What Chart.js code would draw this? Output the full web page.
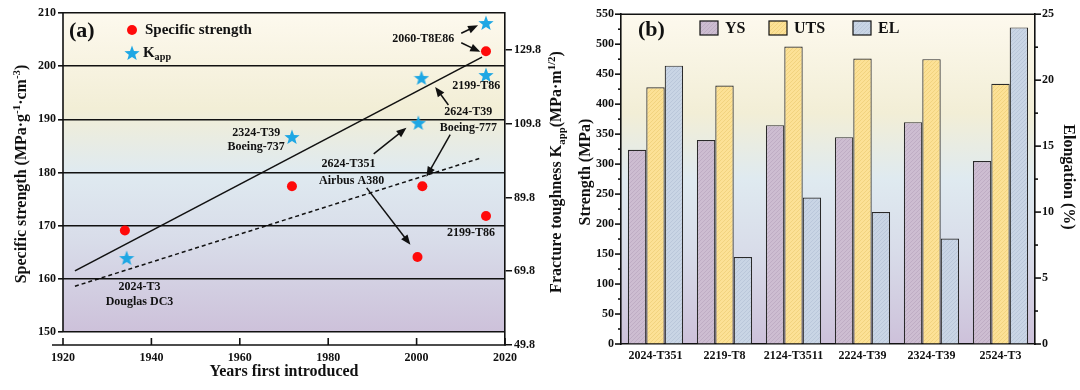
<!DOCTYPE html>
<html>
<head>
<meta charset="utf-8">
<script src="https://cdn.jsdelivr.net/npm/chart.js@4.4.1/dist/chart.umd.min.js"></script>
<style>
  html, body { margin: 0; padding: 0; background: #fff; }
  #wrap { position: relative; width: 1080px; height: 390px; }
  #chart-a { position: absolute; left: 0; top: 0; }
  #chart-b { position: absolute; left: 572px; top: 0; }
</style>
</head>
<body>
<div id="wrap">
  <canvas id="chart-a" width="572" height="390"></canvas>
  <canvas id="chart-b" width="508" height="390"></canvas>
</div>
<script>
// ---- panel (a) data ----
const yearTicks = [1920, 1940, 1960, 1980, 2000, 2020];
const strengthTicks = [150, 160, 170, 180, 190, 200, 210];
const toughTicks = [49.8, 69.8, 89.8, 109.8, 129.8];

const strengthYears = [1934, 1971.8, 2001.3, 2000.2, 2015.7, 2015.7];
const strengthValues = [169.1, 177.4, 177.4, 164.1, 171.8, 202.8];
const toughYears = [1934.4, 1971.8, 2000.4, 2001.1, 2015.7, 2015.7];
const toughValues = [73.4, 106.2, 110.0, 122.2, 123.0, 137.1];

const trendYears = [1922.7, 2014.8];
const trendSolid = [161.5, 201.7];
const trendDashed = [158.6, 182.8];

// ---- panel (b) data ----
const alloys = ["2024-T351", "2219-T8", "2124-T3511", "2224-T39", "2324-T39", "2524-T3"];
const ysValues = [324, 340, 365, 345, 370, 305];
const utsValues = [428, 431, 496, 476, 475, 434];
const elValues = [21.1, 6.6, 11.1, 10.0, 8.0, 24.0];

const serif = '"Liberation Serif", "Times New Roman", serif';
const ink = "#111";
const red = "#ff0a0a";
const blue = "#1ea7e4";
const font = (size) => `bold ${size}px ${serif}`;

const makeStar = (size, color) => {
  const c = document.createElement("canvas");
  c.width = c.height = size;
  const g = c.getContext("2d");
  const r = size / 2;
  g.beginPath();
  for (let i = 0; i < 10; i++) {
    const rad = i % 2 ? r * 0.42 : r;
    const a = -Math.PI / 2 + (i * Math.PI) / 5;
    g.lineTo(r + rad * Math.cos(a), r + 0.6 + rad * Math.sin(a));
  }
  g.closePath();
  g.fillStyle = color;
  g.fill();
  return c;
};
const starImg = makeStar(16, blue);

const hatch = (base, dot) => {
  const c = document.createElement("canvas");
  c.width = c.height = 4;
  const g = c.getContext("2d");
  g.fillStyle = base;
  g.fillRect(0, 0, 4, 4);
  g.fillStyle = dot;
  g.fillRect(0, 0, 1, 1);
  g.fillRect(2, 2, 1, 1);
  g.fillRect(1, 3, 1, 1);
  g.fillRect(3, 1, 1, 1);
  return g.createPattern(c, "repeat");
};
const ysFill = hatch("#cdbdd1", "#bfadc4");
const utsFill = hatch("#fce196", "#f1d37f");
const elFill = hatch("#c9d5e5", "#bac7da");

const fillBackdrop = (ctx, l, t, r, b) => {
  const g = ctx.createLinearGradient(0, t, 0, b);
  g.addColorStop(0, "#fdf9ee");
  g.addColorStop(0.3, "#f2eed6");
  g.addColorStop(0.5, "#dfeaf0");
  g.addColorStop(0.72, "#d8dce9");
  g.addColorStop(1, "#cdc1da");
  ctx.fillStyle = g;
  ctx.fillRect(l, t, r - l, b - t);
};

const line = (ctx, x1, y1, x2, y2) => {
  ctx.beginPath();
  ctx.moveTo(x1, y1);
  ctx.lineTo(x2, y2);
  ctx.stroke();
};

const arrow = (ctx, x1, y1, x2, y2) => {
  const ang = Math.atan2(y2 - y1, x2 - x1);
  const hl = 10, hw = 4;
  const c = Math.cos(ang), s = Math.sin(ang);
  line(ctx, x1, y1, x2 - hl * 0.7 * c, y2 - hl * 0.7 * s);
  ctx.beginPath();
  ctx.moveTo(x2, y2);
  ctx.lineTo(x2 - hl * c + hw * s, y2 - hl * s - hw * c);
  ctx.lineTo(x2 - hl * c - hw * s, y2 - hl * s + hw * c);
  ctx.closePath();
  ctx.fill();
};

// text with sub/superscripts: parts = [[text, kind]]
const richText = (ctx, parts, x, y, angle, size) => {
  ctx.save();
  ctx.translate(x, y);
  ctx.rotate(angle);
  ctx.textBaseline = "middle";
  ctx.textAlign = "left";
  const sizes = parts.map((p) => (p[1] ? size * 0.68 : size));
  const widths = parts.map((p, i) => {
    ctx.font = font(sizes[i]);
    return ctx.measureText(p[0]).width;
  });
  let cx = -widths.reduce((a, b) => a + b, 0) / 2;
  parts.forEach((p, i) => {
    ctx.font = font(sizes[i]);
    const dy = p[1] === "sub" ? size * 0.3 : p[1] === "sup" ? -size * 0.32 : 0;
    ctx.fillText(p[0], cx, dy);
    cx += widths[i];
  });
  ctx.restore();
};

// annotations for panel (a), in data units of the left axis
const notes = [
  ["2060-T8E86", 2001.5, 205.1],
  ["2199-T86", 2013.5, 196.3],
  ["2624-T39", 2011.7, 191.4],
  ["Boeing-777", 2011.7, 188.4],
  ["2624-T351", 1984.6, 181.6],
  ["Airbus A380", 1985.3, 178.4],
  ["2324-T39", 1963.7, 187.4],
  ["Boeing-737", 1963.7, 184.8],
  ["2024-T3", 1937.3, 158.5],
  ["Douglas DC3", 1937.3, 155.7],
  ["2199-T86", 2012.3, 168.6],
];
const arrows = [
  [2010.1, 206.2, 2013.9, 207.7],
  [2010.1, 204.4, 2014.4, 202.7],
  [2007.2, 192.7, 2004.2, 196.1],
  [2007.6, 187.1, 2002.2, 179.2],
  [1990.3, 183.5, 1997.7, 188.4],
  [1988.7, 177.1, 1998.6, 166.4],
];

const panelA = {
  id: "panelA",
  beforeDraw(chart) {
    const { ctx, chartArea: a, scales: { y } } = chart;
    fillBackdrop(ctx, a.left, y.getPixelForValue(210), a.right, y.getPixelForValue(150));
  },
  afterDraw(chart) {
    const { ctx, chartArea: a, scales: { x, y } } = chart;
    ctx.save();
    ctx.strokeStyle = ink;
    ctx.fillStyle = ink;
    ctx.lineWidth = 1.6;
    line(ctx, a.left, y.getPixelForValue(210), a.left, y.getPixelForValue(150));
    line(ctx, a.left - 11, a.bottom, a.right + 1, a.bottom);
    yearTicks.forEach((v) => {
      const px = x.getPixelForValue(v);
      line(ctx, px, a.bottom, px, a.bottom - 7);
    });

    ctx.lineWidth = 1.5;
    arrows.forEach((r) =>
      arrow(ctx, x.getPixelForValue(r[0]), y.getPixelForValue(r[1]),
        x.getPixelForValue(r[2]), y.getPixelForValue(r[3]))
    );

    ctx.font = font(12);
    ctx.textAlign = "center";
    ctx.textBaseline = "middle";
    notes.forEach((n) => ctx.fillText(n[0], x.getPixelForValue(n[1]), y.getPixelForValue(n[2])));

    // legend + panel tag
    ctx.textAlign = "left";
    ctx.font = font(22);
    ctx.fillText("(a)", a.left + 6, 31);
    ctx.beginPath();
    ctx.fillStyle = red;
    ctx.arc(132, 30, 5, 0, Math.PI * 2);
    ctx.fill();
    ctx.drawImage(starImg, 124, 45);
    ctx.fillStyle = ink;
    ctx.font = font(15);
    ctx.fillText("Specific strength", 145, 30);
    richText(ctx, [["K", ""], ["app", "sub"]], 157, 53, 0, 15);

    // axis titles
    richText(ctx, [["Years first introduced", ""]], (a.left + a.right) / 2, 372, 0, 16);
    richText(ctx, [["Specific strength (MPa·g", ""], ["-1", "sup"], ["·cm", ""], ["-3", "sup"], [")", ""]],
      22, 174, -Math.PI / 2, 16);
    richText(ctx, [["Fracture toughness K", ""], ["app", "sub"], ["(MPa·m", ""], ["1/2", "sup"], [")", ""]],
      557, 172, -Math.PI / 2, 16);
    ctx.restore();
  },
};

const pts = (xs, ys) => xs.map((v, i) => ({ x: v, y: ys[i] }));

new Chart(document.getElementById("chart-a"), {
  type: "scatter",
  data: {
    datasets: [
      {
        label: "Specific strength",
        data: pts(strengthYears, strengthValues),
        pointStyle: "circle",
        pointRadius: 5,
        backgroundColor: red,
        borderWidth: 0,
      },
      {
        label: "Kapp",
        yAxisID: "y2",
        data: pts(toughYears, toughValues),
        pointStyle: starImg,
        pointRadius: 7,
      },
      {
        label: "trend",
        data: pts(trendYears, trendSolid),
        showLine: true,
        borderColor: ink,
        borderWidth: 1.6,
        pointRadius: 0,
      },
      {
        label: "trend dashed",
        data: pts(trendYears, trendDashed),
        showLine: true,
        borderColor: ink,
        borderWidth: 1.5,
        borderDash: [4, 3],
        pointRadius: 0,
      },
    ],
  },
  options: {
    responsive: false,
    animation: false,
    layout: { padding: { top: 13, left: 0, right: 0, bottom: 0 } },
    plugins: { legend: { display: false }, tooltip: { enabled: false } },
    scales: {
      x: {
        type: "linear",
        min: 1920,
        max: 2020,
        afterBuildTicks: (s) => { s.ticks = yearTicks.map((v) => ({ value: v })); },
        afterFit: (s) => { s.height = 45; },
        border: { display: false },
        grid: { drawOnChartArea: false, drawTicks: false },
        ticks: {
          font: { family: serif, size: 12, weight: "bold" },
          color: ink,
          padding: 6,
          callback: (v) => String(v),
        },
      },
      y: {
        min: 147.55,
        max: 210,
        afterBuildTicks: (s) => { s.ticks = strengthTicks.map((v) => ({ value: v })); },
        afterFit: (s) => { s.width = 63; },
        border: { display: false },
        grid: { color: ink, lineWidth: 1.6, tickLength: 5 },
        ticks: { font: { family: serif, size: 12, weight: "bold" }, color: ink, padding: 2 },
      },
      y2: {
        position: "right",
        min: 49.8,
        max: 139.8,
        afterBuildTicks: (s) => { s.ticks = toughTicks.map((v) => ({ value: v })); },
        afterFit: (s) => { s.width = 67; },
        border: { display: true, color: ink, width: 1.6 },
        grid: { drawOnChartArea: false, color: ink, lineWidth: 1.5, tickLength: 7 },
        ticks: {
          font: { family: serif, size: 12, weight: "bold" },
          color: ink,
          padding: 2,
          callback: (v) => Number(v).toFixed(1),
        },
      },
    },
  },
  plugins: [panelA],
});

// ---- panel (b) ----
const panelB = {
  id: "panelB",
  beforeDraw(chart) {
    const { ctx, chartArea: a } = chart;
    fillBackdrop(ctx, a.left, a.top, a.right, a.bottom);
  },
  afterDraw(chart) {
    const { ctx, chartArea: a, scales: { y, y2 } } = chart;
    ctx.save();
    ctx.strokeStyle = ink;
    ctx.fillStyle = ink;
    ctx.lineWidth = 1.6;
    line(ctx, a.left, a.top, a.right, a.top);
    for (let v = 0; v <= 550; v += 25) {
      const py = y.getPixelForValue(v);
      line(ctx, a.left, py, a.left - (v % 50 ? 3 : 6), py);
    }
    for (let v = 0; v <= 25; v += 2.5) {
      const py = y2.getPixelForValue(v);
      line(ctx, a.right, py, a.right + (v % 5 ? 3 : 6), py);
    }

    ctx.textAlign = "left";
    ctx.textBaseline = "middle";
    ctx.font = font(22);
    ctx.fillText("(b)", a.left + 17, 30);
    ctx.font = font(16);
    ctx.lineWidth = 1.2;
    [["YS", ysFill, 128], ["UTS", utsFill, 197], ["EL", elFill, 281]].forEach(([t, f, lx]) => {
      ctx.fillStyle = f;
      ctx.fillRect(lx, 21, 18, 14);
      ctx.strokeRect(lx, 21, 18, 14);
      ctx.fillStyle = ink;
      ctx.fillText(t, lx + 25, 29);
    });

    richText(ctx, [["Strength (MPa)", ""]], 14, 172, -Math.PI / 2, 16);
    richText(ctx, [["Elongation (%)", ""]], 496, 177, Math.PI / 2, 16);
    ctx.restore();
  },
};

new Chart(document.getElementById("chart-b"), {
  type: "bar",
  data: {
    labels: alloys,
    datasets: [
      { label: "YS", data: ysValues, backgroundColor: ysFill },
      { label: "UTS", data: utsValues, backgroundColor: utsFill },
      { label: "EL", data: elValues, backgroundColor: elFill, yAxisID: "y2" },
    ],
  },
  options: {
    responsive: false,
    animation: false,
    layout: { padding: { top: 11, left: 0, right: 0, bottom: 0 } },
    datasets: {
      bar: {
        categoryPercentage: 0.8,
        barPercentage: 1.0,
        borderColor: "#2a2a2a",
        borderWidth: 1.2,
      },
    },
    plugins: { legend: { display: false }, tooltip: { enabled: false } },
    scales: {
      x: {
        afterFit: (s) => { s.height = 46; },
        border: { display: true, color: ink, width: 1.6 },
        grid: { drawOnChartArea: false, drawTicks: false },
        ticks: { font: { family: serif, size: 12, weight: "bold" }, color: ink, padding: 5 },
      },
      y: {
        min: 0,
        max: 550,
        afterFit: (s) => { s.width = 49; },
        border: { display: true, color: ink, width: 1.6 },
        grid: { drawOnChartArea: false, drawTicks: false },
        ticks: { stepSize: 50, font: { family: serif, size: 12, weight: "bold" }, color: ink, padding: 7 },
      },
      y2: {
        position: "right",
        min: 0,
        max: 25,
        afterFit: (s) => { s.width = 45; },
        border: { display: true, color: ink, width: 1.6 },
        grid: { drawOnChartArea: false, drawTicks: false },
        ticks: { stepSize: 5, font: { family: serif, size: 12, weight: "bold" }, color: ink, padding: 7 },
      },
    },
  },
  plugins: [panelB],
});
</script>
</body>
</html>
